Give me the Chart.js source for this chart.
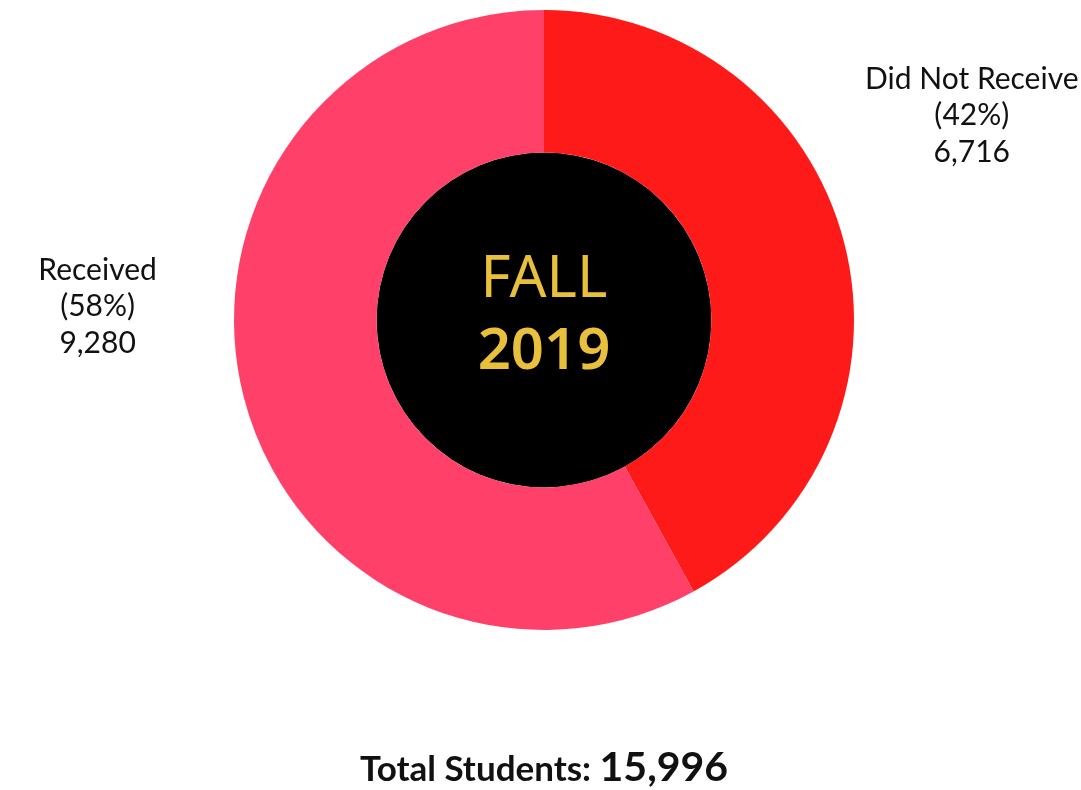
<!DOCTYPE html>
<html>
<head>
<meta charset="utf-8">
<script src="https://cdn.jsdelivr.net/npm/chart.js@4"></script>
<style>
  html, body { margin: 0; padding: 0; background: #fff; }
  #wrap { position: relative; width: 1081px; height: 790px; }
  .preload { position: absolute; left: -9999px; }
</style>
</head>
<body>
<div id="wrap"><canvas id="chart-aid" width="1081" height="790"></canvas></div>
<span class="preload" style="font-family:'Noto Sans'">FALL</span>
<span class="preload" style="font-family:'Noto Sans';font-weight:bold">2019</span>
<span class="preload" style="font-family:Lato">x</span>
<span class="preload" style="font-family:Lato;font-weight:bold">x</span>
<script>
var labels = ["Did Not Receive", "Received"];
var students = [6716, 9280];
var colors = ["rgb(255, 26, 26)", "rgb(255, 64, 104)"];
var centerLines = ["FALL", "2019"];
var totalLabel = "Total Students:";

// label offsets around the ring, in units of the outer radius
var labelOffsets = [[1.38, -0.66], [-1.44, -0.045]];

var centerFont = "'Noto Sans', 'Open Sans', sans-serif";

function fmt(n) {
    return n.toLocaleString("en-US");
}

var total = students.reduce(function(a, b) { return a + b; }, 0);

var extras = {
    id: 'extras',
    beforeDatasetsDraw: function(chart) {
        var arc = chart.getDatasetMeta(0).data[0];
        var c = chart.ctx;
        c.save();
        c.fillStyle = "#000";
        c.beginPath();
        c.arc(arc.x, arc.y, arc.innerRadius, 0, Math.PI * 2);
        c.fill();
        c.restore();
    },
    afterDatasetsDraw: function(chart) {
        var meta = chart.getDatasetMeta(0);
        var arc = meta.data[0];
        var c = chart.ctx;
        c.save();
        c.textAlign = "center";
        c.textBaseline = "middle";

        // center text
        c.fillStyle = "#e9c03c";
        c.font = "58px " + centerFont;
        c.fillText(centerLines[0], arc.x, arc.y - 40);
        c.font = "600 58px " + centerFont;
        c.fillText(centerLines[1], arc.x, arc.y + 32);

        // slice labels
        c.fillStyle = "#111";
        c.font = "30px Lato";
        meta.data.forEach(function(el, i) {
            var r = el.outerRadius;
            var x = el.x + labelOffsets[i][0] * r;
            var y = el.y + labelOffsets[i][1] * r;
            var pct = Math.round(students[i] / total * 100);
            c.fillText(labels[i], x, y - 36);
            c.fillText("(" + pct + "%)", x, y);
            c.fillText(fmt(students[i]), x, y + 37);
        });

        // total line
        c.textBaseline = "alphabetic";
        c.textAlign = "left";
        c.font = "bold 35px Lato";
        var w1 = c.measureText(totalLabel + " ").width;
        c.font = "bold 41px Lato";
        var w2 = c.measureText(fmt(total)).width;
        var x0 = arc.x - (w1 + w2) / 2;
        c.font = "bold 35px Lato";
        c.fillText(totalLabel + " ", x0, 781);
        c.font = "bold 41px Lato";
        c.fillText(fmt(total), x0 + w1, 781);
        c.restore();
    }
};

function draw() {
    var ctx = document.getElementById('chart-aid');
    new Chart(ctx, {
        type: 'doughnut',
        data: {
            labels: labels,
            datasets: [{
                data: students,
                backgroundColor: colors,
                borderWidth: 0
            }]
        },
        options: {
            responsive: false,
            animation: false,
            cutout: '54%',
            layout: { padding: { top: 10, bottom: 160, left: 10, right: 3 } },
            plugins: {
                legend: { display: false },
                tooltip: { enabled: false }
            }
        },
        plugins: [extras]
    });
}

Promise.all([
    document.fonts.load("58px 'Noto Sans'"),
    document.fonts.load("600 58px 'Noto Sans'"),
    document.fonts.load("30px Lato"),
    document.fonts.load("bold 35px Lato")
]).then(draw, draw);
</script>
</body>
</html>
